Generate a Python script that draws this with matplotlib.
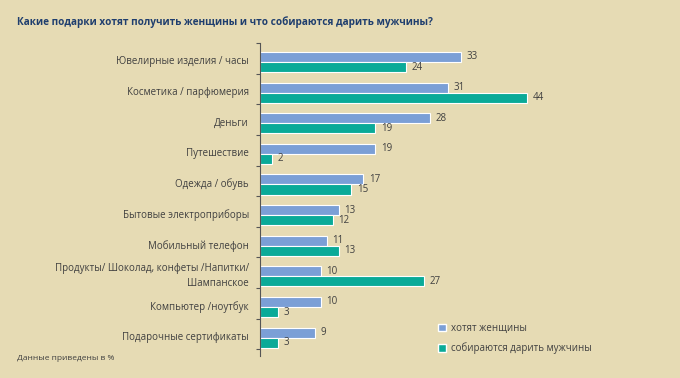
import numpy as np
import matplotlib.pyplot as plt
from matplotlib.patches import Patch

plt.rcParams['font.family'] = ['Open Sans', 'DejaVu Sans']

# данные
categories = ["Ювелирные изделия / часы", "Косметика / парфюмерия", "Деньги", "Путешествие",
              "Одежда / обувь", "Бытовые электроприборы", "Мобильный телефон",
              "Продукты/ Шоколад, конфеты /Напитки/\nШампанское",
              "Компьютер /ноутбук", "Подарочные сертификаты"]
women = [33, 31, 28, 19, 17, 13, 11, 10, 10, 9]
men = [24, 44, 19, 2, 15, 12, 13, 27, 3, 3]
series_names = ["хотят женщины", "собираются дарить мужчины"]

bg = '#E6DBB4'
blue = '#7B9FD6'
teal = '#0AAA98'
txt = '#404040'

fig = plt.figure(figsize=(6.8, 3.78), dpi=100, facecolor=bg)
ax = fig.add_axes([260/680, 1-356/378, 310/680, 313/378])
ax.set_facecolor(bg)

y = np.arange(len(categories))
h = 0.33
ax.barh(y - h/2, women, height=h, color=blue, edgecolor='white', linewidth=0.8)
ax.barh(y + h/2, men, height=h, color=teal, edgecolor='white', linewidth=0.8)

for i in range(len(categories)):
    ax.annotate(str(women[i]), (women[i], y[i] - h/2), xytext=(4, 0), textcoords='offset points',
                va='center', ha='left', fontsize=7, color=txt)
    ax.annotate(str(men[i]), (men[i], y[i] + h/2), xytext=(4, 0), textcoords='offset points',
                va='center', ha='left', fontsize=7, color=txt)
    ax.annotate(categories[i], (0, y[i]), xytext=(-8, 0), textcoords='offset points',
                va='center', ha='right', fontsize=7, color=txt, linespacing=1.5)

ax.set_xlim(0, 51)
ax.set_ylim(9.6, -0.62)
ax.set_yticks(np.arange(11) - 0.62)
ax.set_yticklabels([])
ax.set_xticks([])
ax.tick_params(axis='y', direction='out', length=3, width=0.8, color='#555555')
for s in ['top', 'right', 'bottom']:
    ax.spines[s].set_visible(False)
ax.spines['left'].set_color('#555555')
ax.spines['left'].set_linewidth(0.8)

fig.text(17/680, 1-22/378, "Какие подарки хотят получить женщины и что собираются дарить мужчины?",
         fontsize=7.2, fontweight='bold', color='#1F3E6E', va='center', ha='left')
fig.text(17/680, 1-358/378, "Данные приведены в %", fontsize=6, color=txt, va='center', ha='left')

handles = [Patch(facecolor=blue, edgecolor='white'), Patch(facecolor=teal, edgecolor='white')]
fig.legend(handles, series_names, loc='upper left', bbox_to_anchor=(429/680, 1-314/378),
           frameon=False, fontsize=7, labelcolor=txt, handlelength=0.8, handleheight=0.8,
           handletextpad=0.6, labelspacing=0.9)

fig.savefig('out.png', dpi=100, facecolor=bg)
